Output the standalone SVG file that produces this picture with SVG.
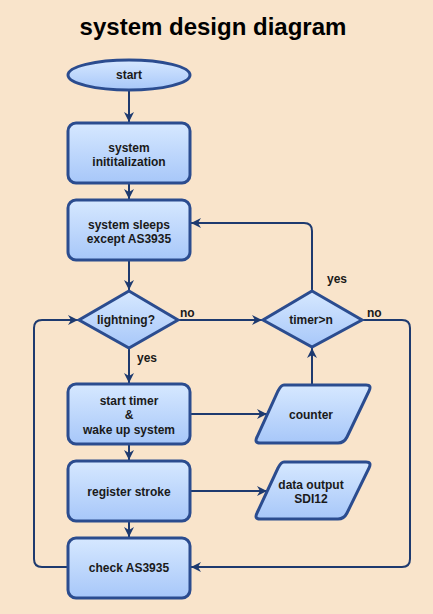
<svg xmlns="http://www.w3.org/2000/svg" width="433" height="614" viewBox="0 0 433 614">
<defs>
<linearGradient id="g" x1="0" y1="0" x2="0" y2="1">
<stop offset="0" stop-color="#D6E8FF"/>
<stop offset="1" stop-color="#A7C7F9"/>
</linearGradient>
<marker id="arr" markerWidth="12" markerHeight="12" viewBox="0 0 12 12" refX="11" refY="6" orient="auto" markerUnits="userSpaceOnUse">
<path d="M1,1 L11,6 L1,11 L4,6 Z" fill="#1E3A6F"/>
</marker>
<style>
.n{fill:url(#g);stroke:#2B4C8F;stroke-width:3}
.t{font-family:"Liberation Sans",Arial,sans-serif;font-weight:bold;font-size:12px;fill:#1a1a1a;text-anchor:middle}
.l{font-family:"Liberation Sans",Arial,sans-serif;font-weight:bold;font-size:12px;fill:#1a1a1a}
.c{fill:none;stroke:#1E3A6F;stroke-width:2;stroke-linejoin:round}
</style>
</defs>
<rect width="433" height="614" fill="#F9E4CB"/>
<text x="213" y="35" font-family="'Liberation Sans',Arial,sans-serif" font-weight="bold" font-size="24" text-anchor="middle" fill="#000">system design diagram</text>
<g id="connectors">
<path class="c" d="M129,90 V122" marker-end="url(#arr)"/>
<path class="c" d="M129,183 V199" marker-end="url(#arr)"/>
<path class="c" d="M129,260 V290" marker-end="url(#arr)"/>
<path class="c" d="M129,348 V383" marker-end="url(#arr)"/>
<path class="c" d="M178,320 H262" marker-end="url(#arr)"/>
<path class="c" d="M312,291 V231 Q312,223 304,223 H191" marker-end="url(#arr)"/>
<path class="c" d="M362,320 H402 Q410,320 410,328 V559 Q410,567 402,567 H191" marker-end="url(#arr)"/>
<path class="c" d="M190,414 H267" marker-end="url(#arr)"/>
<path class="c" d="M312,385 V348" marker-end="url(#arr)"/>
<path class="c" d="M129,444 V460" marker-end="url(#arr)"/>
<path class="c" d="M190,491 H267" marker-end="url(#arr)"/>
<path class="c" d="M129,521 V537" marker-end="url(#arr)"/>
<path class="c" d="M68,567 H42 Q34,567 34,559 V328 Q34,320 42,320 H78" marker-end="url(#arr)"/>
<text class="l" x="137" y="362">yes</text>
<text class="l" x="180" y="317">no</text>
<text class="l" x="327" y="283">yes</text>
<text class="l" x="367" y="317">no</text>
</g>
<g id="start">
<ellipse class="n" cx="129" cy="75" rx="61" ry="15"/>
<text class="t" x="129" y="79">start</text>
</g>
<g id="init">
<rect class="n" x="68" y="123" width="122" height="60" rx="8"/>
<text class="t" x="129" y="152">system</text>
<text class="t" x="129" y="166">inititalization</text>
</g>
<g id="sleep">
<rect class="n" x="68" y="200" width="122" height="60" rx="8"/>
<text class="t" x="129" y="229">system sleeps</text>
<text class="t" x="129" y="243">except AS3935</text>
</g>
<g id="lightning">
<path class="n" d="M129,291 L178,320 L129,348 L79,320 Z"/>
<text class="t" x="126" y="324">lightning?</text>
</g>
<g id="timer">
<path class="n" d="M312,291 L362,320 L312,347 L263,320 Z"/>
<text class="t" x="311" y="324">timer&gt;n</text>
</g>
<g id="starttimer">
<rect class="n" x="68" y="384" width="122" height="60" rx="8"/>
<text class="t" x="129" y="405">start timer</text>
<text class="t" x="129" y="419">&amp;</text>
<text class="t" x="129" y="434">wake up system</text>
</g>
<g id="counter">
<path class="n" d="M284,385 H366 Q372,385 369,391 L347,437 Q344,443 338,443 H260 Q254,443 257,437 L278,391 Q281,385 284,385 Z"/>
<text class="t" x="311" y="419">counter</text>
</g>
<g id="register">
<rect class="n" x="68" y="461" width="122" height="60" rx="8"/>
<text class="t" x="129" y="496">register stroke</text>
</g>
<g id="dataoutput">
<path class="n" d="M284,462 H366 Q372,462 369,468 L347,513 Q344,519 338,519 H260 Q254,519 257,513 L278,468 Q281,462 284,462 Z"/>
<text class="t" x="311" y="489">data output</text>
<text class="t" x="311" y="503">SDI12</text>
</g>
<g id="check">
<rect class="n" x="68" y="538" width="122" height="60" rx="8"/>
<text class="t" x="129" y="572">check AS3935</text>
</g>
</svg>
